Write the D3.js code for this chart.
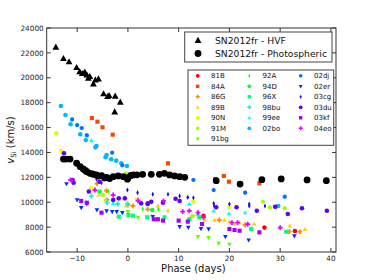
<!DOCTYPE html>
<html><head><meta charset="utf-8">
<script src="https://cdn.jsdelivr.net/npm/d3@7"></script>
<style>body{margin:0;background:#fff}svg{display:block}text{font-family:"DejaVu Sans",sans-serif}</style>
</head><body><svg id="c" width="374" height="280"></svg>
<script>
const xTicks = [-10, 0, 10, 20, 30, 40];
const yTicks = [6000, 8000, 10000, 12000, 14000, 16000, 18000, 20000, 22000, 24000];
const hvf = [[-14.2,22450],[-12.7,21530],[-11.6,21270],[-10.1,20810],[-9.5,20470],[-9.0,20330],[-8.5,20440],[-8.1,20220],[-7.8,19960],[-7.5,20090],[-6.8,19500],[-6.4,19820],[-5.8,19900],[-4.8,18700],[-4.0,18480],[-3.7,18560],[-2.5,18510],[-1.5,18030],[-2.6,17250]];
const photo = [[-12.7,13470],[-12.2,13470],[-11.4,13470],[-10.1,13130],[-9.4,12860],[-8.8,12670],[-8.4,12550],[-8.1,12450],[-7.5,12320],[-7.0,12280],[-6.8,12240],[-6.2,12190],[-5.8,12100],[-5.2,12130],[-4.6,11950],[-4.2,12000],[-3.6,11900],[-2.9,12050],[-1.9,12110],[-0.9,12050],[-0.1,11850],[0.1,12000],[0.6,12150],[1.1,12190],[1.8,12200],[2.9,12240],[4.6,12240],[6.2,12240],[7.2,12320],[8.2,12190],[9.2,12110],[10.2,12050],[11.2,12000],[17.4,11730],[22.1,11460],[26.4,11810],[30.2,11870],[35.3,11790],[39.1,11730]];
const sn81B = [[3.9,9910],[14.9,8900],[26.9,7960],[32.9,7690]];
const sn84A = [[-7.1,16770],[-6.0,16470],[-5.0,16020],[-3.0,15430],[7.9,13130],[17.2,11870],[18.9,12110],[19.9,11650],[25.9,11520]];
const sn86G = [[-6.1,11490],[-4.2,10930],[-4.1,10180],[0.0,9780],[1.0,9700],[3.9,9430],[18.0,8570],[23.1,8170],[31.8,7630],[33.9,7630]];
const sn89B = [[-5.7,10580],[-4.4,10180],[-0.3,9700],[5.9,9700],[7.9,9320],[12.5,8890],[15.1,8570],[17.1,8570],[19.0,8570],[20.0,8440],[21.0,8230],[22.0,8360],[24.9,8230],[31.9,8100],[34.9,7820]];
const sn90N = [[-14.1,15540],[-13.1,14120],[-7.2,11120],[1.8,10230],[12.9,10040],[20.0,9640]];
const sn91M = [[-4.9,10580],[-0.3,12320],[12.8,8890],[26.6,10040],[28.0,9590],[30.9,9510]];
const sn91bg = [[0.0,9240],[2.0,8790],[13.8,7230],[15.9,7150],[17.9,6700],[20.0,6620]];
const sn92A = [[-3.9,10860],[2.9,9460],[6.0,9430]];
const sn94D = [[-5.6,10860],[4.8,9380],[14.1,8790]];
const sn96X = [[-1.8,8840],[0.1,8970],[1.0,8920],[3.8,8790],[7.2,8790],[12.1,8630],[24.3,7850],[31.2,7630]];
const sn98bu = [[-7.2,10500],[-4.1,9960],[-2.0,9860],[-0.1,9860],[13.8,8970]];
const sn99ee = [[-7.2,14950],[-2.9,9910],[12.1,9860],[16.9,9300],[19.9,9080],[23.1,9160]];
const sn02bo = [[-13.2,17730],[-12.3,17010],[-11.3,16260],[-9.4,15460],[-8.3,15000],[-6.2,14520],[-6.4,14410],[-4.2,13800],[-4.4,13610],[-3.3,13450],[-2.3,13340],[-1.3,13130],[-0.2,12910],[29.6,9700]];
const sn02dj = [[-11.0,16660],[-10.0,16200],[-9.1,15960],[-8.1,15380],[-3.1,13980],[-1.1,12970],[12.9,11790],[16.9,10980],[23.1,10770],[30.9,10440]];
const sn02er = [[-12.1,11480],[-10.0,10180],[-9.2,9560],[-8.1,9860],[-6.1,9380],[-4.2,9300],[-3.1,9240],[-2.2,9240],[-1.1,9160],[4.9,8840],[10.2,8040],[11.9,7980],[14.4,7870],[15.9,7850],[19.2,7230],[23.8,6960],[32.8,7290]];
const sn03cg = [[-6.2,11870],[-5.2,11570],[-0.1,10980],[1.9,10770],[4.9,10640],[7.9,10640],[10.2,10500],[11.8,10390],[12.9,10360],[16.9,9910],[17.0,9700],[20.0,9860],[23.9,9860],[23.9,9700],[27.0,9700],[29.2,9640]];
const sn03du = [[-12.6,13930],[-10.9,11790],[-10.7,11570],[-7.7,10860],[-5.6,11650],[-2.9,10180],[-1.8,10310],[-0.6,10310],[2.6,9910],[3.9,9860],[4.6,10040],[6.9,9960],[9.4,10280],[10.2,10100],[17.4,9590],[21.4,9590],[25.4,9320],[29.0,9640],[31.5,9050],[34.3,9510],[39.2,9320]];
const sn03kf = [[-9.2,10100],[-8.1,9960],[-5.2,9160],[5.1,8630],[5.9,8630],[6.9,8520],[10.0,8520],[11.8,8440],[14.6,8250],[20.0,7850],[21.0,7770],[22.0,7710],[25.9,7580]];
const sn04eo = [[-11.3,11790],[-6.5,10980],[-2.9,10580],[2.0,10120],[7.0,10100],[10.8,9240],[12.1,9300],[13.8,9160],[14.9,8790],[20.5,8360],[21.6,8360],[23.6,8230],[30.0,7960]];
const names = ["81B","84A","86G","89B","90N","91M","91bg","92A","94D","96X","98bu","99ee","02bo","02dj","02er","03cg","03du","03kf","04eo"];
const markers = ["o","s","P","^","o","h","v","d","o","s","P","^","o","h","v","d","o","s","P"];
const seriesData = [sn81B,sn84A,sn86G,sn89B,sn90N,sn91M,sn91bg,sn92A,sn94D,sn96X,sn98bu,sn99ee,sn02bo,sn02dj,sn02er,sn03cg,sn03du,sn03kf,sn04eo];

const svg = d3.select("#c");
const L = 46.7, R = 336, T = 28, B = 252;
const x = d3.scaleLinear().domain([-16, 41]).range([L, R]);
const y = d3.scaleLinear().domain([6000, 24000]).range([B, T]);
const color = i => d3.hsl(i * 16.4, 1, 0.5).toString();

function mpath(m, s) {
  const h = s / 2;
  switch (m) {
    case "s": return `M${-h*0.9},${-h*0.9}H${h*0.9}V${h*0.9}H${-h*0.9}Z`;
    case "^": return `M0,${-h*1.1}L${h},${h*0.7}L${-h},${h*0.7}Z`;
    case "v": return `M0,${h*1.1}L${h},${-h*0.7}L${-h},${-h*0.7}Z`;
    case "d": return `M0,${-h*1.1}L${h*0.55},0L0,${h*1.1}L${-h*0.55},0Z`;
    case "P": { const a = h*0.38, b = h*1.05; return `M${-a},${-b}H${a}V${-a}H${b}V${a}H${a}V${b}H${-a}V${a}H${-b}V${-a}H${-a}Z`; }
    case "h": { let p = ""; for (let k = 0; k < 6; k++) { const an = Math.PI/3*k + Math.PI/6; p += (k?"L":"M") + (h*Math.cos(an)).toFixed(2) + "," + (h*Math.sin(an)).toFixed(2); } return p + "Z"; }
    default: return d3.symbol(d3.symbolCircle, Math.PI*h*h)();
  }
}

const g = svg.append("g");
g.append("rect").attr("x", L).attr("y", T).attr("width", R-L).attr("height", B-T)
  .attr("fill", "none").attr("stroke", "#333").attr("stroke-width", 1);

const tl = 4;
xTicks.forEach(t => {
  const px = x(t);
  g.append("line").attr("x1", px).attr("x2", px).attr("y1", B).attr("y2", B-tl).attr("stroke", "#333");
  g.append("line").attr("x1", px).attr("x2", px).attr("y1", T).attr("y2", T+tl).attr("stroke", "#333");
  g.append("text").attr("x", px).attr("y", B+8.5).attr("text-anchor", "middle")
    .attr("font-size", 7.3).attr("fill", "#222").text(t < 0 ? "\u2212" + Math.abs(t) : t);
});
yTicks.forEach(t => {
  const py = y(t);
  g.append("line").attr("x1", L).attr("x2", L+tl).attr("y1", py).attr("y2", py).attr("stroke", "#333");
  g.append("line").attr("x1", R).attr("x2", R-tl).attr("y1", py).attr("y2", py).attr("stroke", "#333");
  g.append("text").attr("x", L-3).attr("y", py+2.7).attr("text-anchor", "end")
    .attr("font-size", 7.3).attr("fill", "#222").text(t);
});

g.append("text").attr("x", (L+R)/2 + 2).attr("y", 271.5).attr("text-anchor", "middle")
  .attr("font-size", 10).attr("fill", "#111").text("Phase (days)");
const yl = g.append("text").attr("transform", `translate(14,${(T+B)/2}) rotate(-90)`)
  .attr("text-anchor", "middle").attr("font-size", 10).attr("fill", "#111");
yl.append("tspan").attr("font-style", "italic").text("v");
yl.append("tspan").attr("font-size", 7).attr("dy", 2).text("Si");
yl.append("tspan").attr("dy", -2).text(" (km/s)");

const pg = svg.append("g");
seriesData.forEach((pts, i) => {
  pg.selectAll(null).data(pts).enter().append("path")
    .attr("d", mpath(markers[i], 4.6))
    .attr("transform", d => `translate(${x(d[0])},${y(d[1])})`)
    .attr("fill", color(i));
});
pg.selectAll(null).data(photo).enter().append("circle")
  .attr("cx", d => x(d[0])).attr("cy", d => y(d[1])).attr("r", 3.4).attr("fill", "#000");
pg.selectAll(null).data(hvf).enter().append("path")
  .attr("d", mpath("^", 6.8))
  .attr("transform", d => `translate(${x(d[0])},${y(d[1])})`).attr("fill", "#000");

const l1 = svg.append("g");
l1.append("rect").attr("x", 184.7).attr("y", 32).attr("width", 147.3).attr("height", 30)
  .attr("fill", "#fff").attr("stroke", "#444").attr("stroke-width", 1);
l1.append("path").attr("d", mpath("^", 6.8)).attr("transform", "translate(198,40.5)").attr("fill", "#000");
l1.append("circle").attr("cx", 198).attr("cy", 53.5).attr("r", 3.4).attr("fill", "#000");
l1.append("text").attr("x", 215).attr("y", 43.8).attr("font-size", 9.2).attr("fill", "#111").text("SN2012fr - HVF");
l1.append("text").attr("x", 215).attr("y", 56.8).attr("font-size", 9.2).attr("fill", "#111").text("SN2012fr - Photospheric");

const l2 = svg.append("g");
l2.append("rect").attr("x", 188).attr("y", 70).attr("width", 145.7).attr("height", 75.3)
  .attr("fill", "#fff").attr("stroke", "#444").attr("stroke-width", 1);
const colX = [197.7, 249.3, 300.7];
const rowY0 = 75.8, rowDy = 10.5;
const colStart = [0, 7, 13];
names.forEach((n, i) => {
  const c = i < 7 ? 0 : (i < 13 ? 1 : 2);
  const r = i - colStart[c];
  const cy = rowY0 + r * rowDy;
  l2.append("path").attr("d", mpath(markers[i], 3.8)).attr("transform", `translate(${colX[c]},${cy})`).attr("fill", color(i));
  l2.append("text").attr("x", colX[c] + 13.3).attr("y", cy + 2.5).attr("font-size", 7).attr("fill", "#111").text(n);
});
</script></body></html>
